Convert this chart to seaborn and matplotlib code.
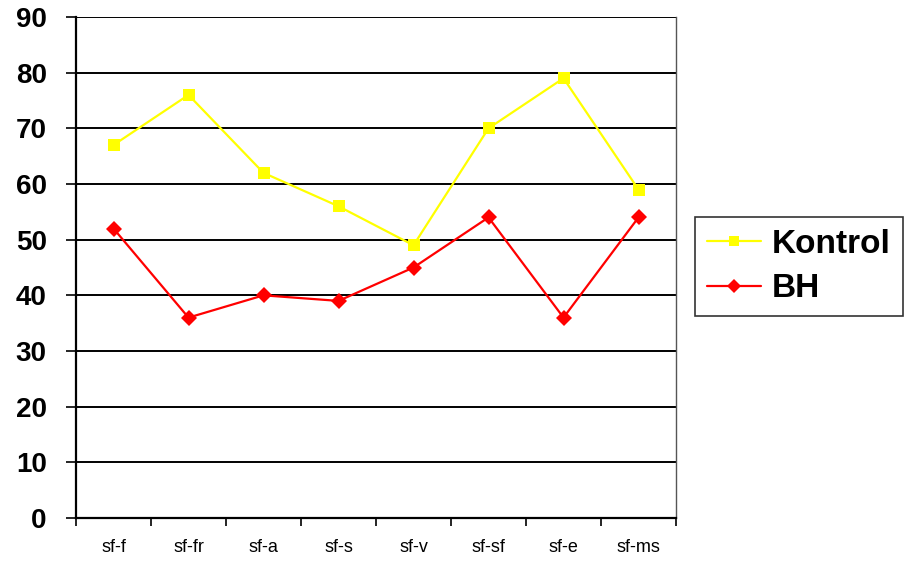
import matplotlib
matplotlib.use("Agg")
import matplotlib.pyplot as plt
from matplotlib.ticker import FixedLocator
import seaborn as sns
import pandas as pd

categories = ["sf-f", "sf-fr", "sf-a", "sf-s", "sf-v", "sf-sf", "sf-e", "sf-ms"]
kontrol = [67, 76, 62, 56, 49, 70, 79, 59]
bh = [52, 36, 40, 39, 45, 54, 36, 54]
series_names = ["Kontrol", "BH"]
y_ticks = list(range(0, 91, 10))

df = pd.DataFrame({
    "kategori": categories * 2,
    "deger": kontrol + bh,
    "grup": [series_names[0]] * len(categories) + [series_names[1]] * len(categories),
})

sns.set_theme(style="white")
plt.rcParams["font.family"] = ["Liberation Sans", "DejaVu Sans"]
plt.rcParams["text.color"] = "black"
plt.rcParams["xtick.color"] = "black"
plt.rcParams["ytick.color"] = "black"
plt.rcParams["xtick.labelcolor"] = "black"
plt.rcParams["ytick.labelcolor"] = "black"

fig = plt.figure(figsize=(9.07, 5.61), dpi=100)
ax = fig.add_axes([76 / 907, 1 - 518 / 561, 600 / 907, 501 / 561])

sns.lineplot(
    data=df, x="kategori", y="deger", hue="grup", style="grup",
    palette={"Kontrol": "#FFFF00", "BH": "#FF0000"},
    markers={"Kontrol": "s", "BH": "D"},
    dashes=False, markersize=8.5, markeredgewidth=0, linewidth=1.6,
    sort=False, ax=ax, legend=True,
)

ax.set_xlim(-0.5, len(categories) - 0.5)
ax.set_ylim(0, 90)
ax.set_yticks(y_ticks)
ax.set_yticklabels([str(t) for t in y_ticks], fontsize=20, fontweight="bold", color="black")
ax.set_xticks(range(len(categories)))
ax.set_xticklabels(categories, fontsize=13, color="black")
ax.xaxis.set_minor_locator(FixedLocator([i - 0.5 for i in range(len(categories) + 1)]))
ax.tick_params(axis="x", which="major", length=0, pad=15)
ax.tick_params(axis="x", which="minor", length=6, width=1.2, color="black", direction="out", bottom=True)
ax.tick_params(axis="y", which="major", length=7, width=1.2, color="black", direction="out", left=True, pad=14)
ax.set_xlabel("")
ax.set_ylabel("")

ax.grid(axis="y", color="black", linewidth=1.4)
ax.set_axisbelow(True)
for side in ["left", "bottom", "right"]:
    ax.spines[side].set_visible(True)
    ax.spines[side].set_color("black")
ax.spines["left"].set_linewidth(1.6)
ax.spines["bottom"].set_linewidth(1.6)
ax.spines["right"].set_linewidth(1.0)
ax.spines["right"].set_color("#555555")
ax.spines["top"].set_visible(False)

handles, labels = ax.get_legend_handles_labels()
ax.legend_.remove()
leg = fig.legend(
    handles, labels, loc="upper left", bbox_to_anchor=(695 / 907, 1 - 217 / 561),
    prop={"family": ["Liberation Sans"], "weight": "bold", "size": 24},
    frameon=True, fancybox=False, edgecolor="black", handlelength=1.62,
    borderpad=0.36, borderaxespad=0, labelspacing=0.4, handletextpad=0.33,
    markerscale=0.85,
)
leg.get_frame().set_linewidth(1.2)
for t in leg.get_texts():
    t.set_color("black")

fig.savefig("out.png", dpi=100)
